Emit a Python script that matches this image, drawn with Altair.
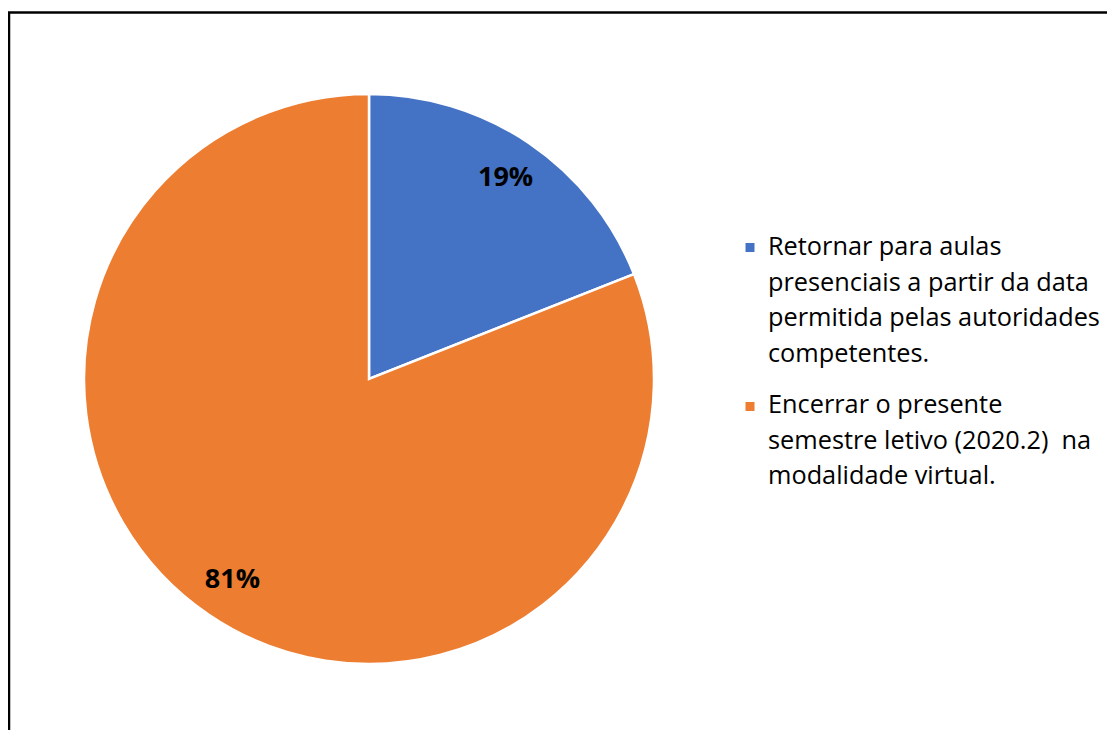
import altair as alt
import pandas as pd

categories = [
    "Retornar para aulas presenciais a partir da data permitida pelas autoridades competentes.",
    "Encerrar o presente semestre letivo (2020.2)  na modalidade virtual.",
]
values = [19, 81]
pct_labels = ["19%", "81%"]
legend_text = [
    "Retornar para aulas\npresenciais a partir da data\npermitida pelas autoridades\ncompetentes.",
    "Encerrar o presente\nsemestre letivo (2020.2)\u00a0\u00a0na\nmodalidade virtual.",
]
colors = ["#4472C4", "#ED7D31"]

df = pd.DataFrame({
    "cat": categories,
    "value": values,
    "label": pct_labels,
    "legend": legend_text,
    "order": [0, 1],
})

W, H = 1099, 722
CX, CY = 361, 371
FONT = "Open Sans"

color = alt.Color("cat:N", scale=alt.Scale(domain=categories, range=colors), legend=None)

base = alt.Chart(df)

pie = base.mark_arc(radius=285, stroke="white", strokeWidth=2.5).encode(
    theta=alt.Theta("value:Q", stack=True),
    order=alt.Order("order:Q"),
    color=color,
    x=alt.value(CX),
    y=alt.value(CY),
)

pct = base.mark_text(radius=243, fontSize=27, fontWeight="bold", font=FONT, color="black").encode(
    theta=alt.Theta("value:Q", stack=True),
    order=alt.Order("order:Q"),
    text="label:N",
    x=alt.value(CX),
    y=alt.value(CY),
)

layers = [pie, pct]
for i, (ymark, ytext) in enumerate([(239.5, 247), (398.5, 405)]):
    sub = base.transform_filter(alt.datum.order == i)
    layers.append(
        sub.mark_square(size=81, opacity=1).encode(
            color=color, x=alt.value(742), y=alt.value(ymark)
        )
    )
    layers.append(
        sub.mark_text(
            align="left", baseline="alphabetic", fontSize=25.3, font=FONT,
            color="black", lineBreak="\n", lineHeight=35.5,
        ).encode(text="legend:N", x=alt.value(760), y=alt.value(ytext))
    )

border_df = pd.DataFrame({"k": [0]})
top_line = alt.Chart(border_df).mark_rule(color="black", strokeWidth=2.5).encode(
    x=alt.value(0), x2=alt.value(W), y=alt.value(4.5)
)
left_line = alt.Chart(border_df).mark_rule(color="black", strokeWidth=2.5).encode(
    x=alt.value(1), y=alt.value(4), y2=alt.value(H)
)
layers += [top_line, left_line]

chart = alt.layer(*layers).properties(
    width=W, height=H, padding=0, autosize=alt.AutoSizeParams(type="none")
).configure_view(stroke=None)

chart.save("out.html", embed_options={"renderer": "svg", "actions": False})
